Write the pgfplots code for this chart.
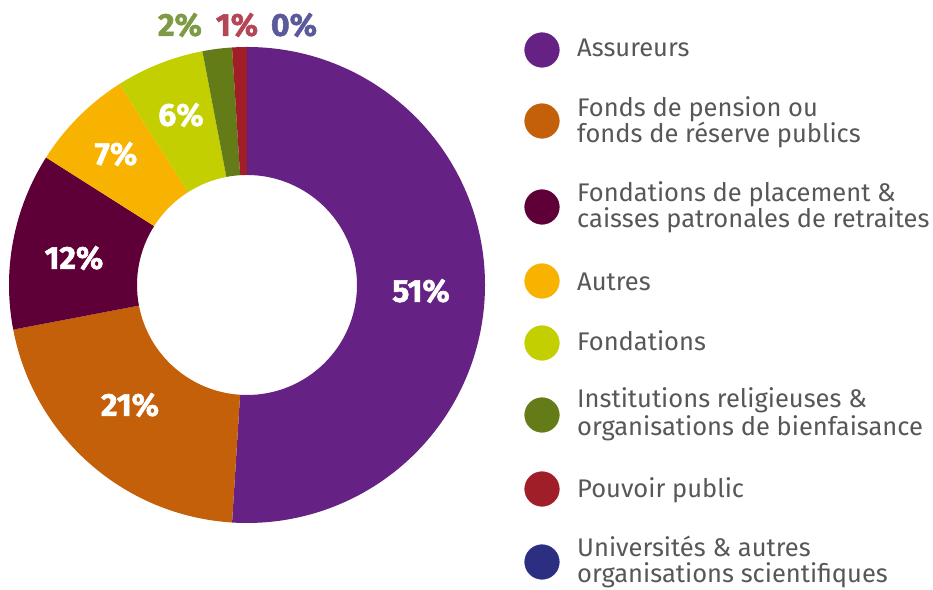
\documentclass[border=0pt]{standalone}
\usepackage{fontspec}
\setmainfont{Fira Sans}
\newfontfamily\heavy[FakeBold=1.6]{Fira Sans Bold}
\usepackage{pgfplots}
\usepackage{pgfplotstable}
\pgfplotsset{compat=1.18}
\definecolor{cA}{HTML}{652183}
\definecolor{cB}{HTML}{C5600A}
\definecolor{cC}{HTML}{5E0037}
\definecolor{cD}{HTML}{F8B200}
\definecolor{cE}{HTML}{C3CF00}
\definecolor{cF}{HTML}{637C18}
\definecolor{cG}{HTML}{A01E28}
\definecolor{cH}{HTML}{2C2E82}
\definecolor{tF}{HTML}{7E9A45}
\definecolor{tG}{HTML}{B44655}
\definecolor{tH}{HTML}{5A5A9B}
\definecolor{txt}{HTML}{575756}

% share (%) and colour of each slice, clockwise from the top
\pgfplotstableread{
value color
51 cA
21 cB
12 cC
7  cD
6  cE
2  cF
1  cG
0  cH
}\slices

\begin{document}
\begin{tikzpicture}
\begin{axis}[x=1bp, y=1bp, xmin=0, xmax=933, ymin=0, ymax=590,
  hide axis, clip=false, anchor=origin]
\path (axis cs:0,0) rectangle (axis cs:933,590);
\pgfplotstablegetrowsof{\slices}
\pgfmathtruncatemacro\nrows{\pgfplotsretval-1}
\gdef\angA{90}
\pgfplotsforeachungrouped \i in {0,...,\nrows}{%
  \pgfplotstablegetelem{\i}{value}\of\slices \let\val\pgfplotsretval
  \pgfplotstablegetelem{\i}{color}\of\slices \let\col\pgfplotsretval
  \pgfmathsetmacro\angB{\angA-3.6*\val}%
  \edef\cmd{\noexpand\fill[\col] ([shift={(\angA:238bp)}]axis cs:247,305)
    arc[start angle=\angA, end angle=\angB, radius=238bp]
    -- ([shift={(\angB:110bp)}]axis cs:247,305)
    arc[start angle=\angB, end angle=\angA, radius=110bp] -- cycle;}%
  \cmd
  \global\let\angA\angB
}
% slice labels
\tikzset{pl/.style={font=\heavy\fontsize{32}{32}\selectfont, text=white, inner sep=0pt}}
\node[pl] at (axis cs:421,299) {51\%};
\node[pl] at (axis cs:130,185) {21\%};
\node[pl] at (axis cs:74,332) {12\%};
\node[pl] at (axis cs:116,436) {7\%};
\node[pl] at (axis cs:181,475) {6\%};
\tikzset{tl/.style={font=\heavy\fontsize{32}{32}\selectfont, inner sep=0pt}}
\node[tl, text=tF] at (axis cs:180,565) {2\%};
\node[tl, text=tG] at (axis cs:237,565) {1\%};
\node[tl, text=tH] at (axis cs:294,565) {0\%};
% legend markers
\addplot[only marks, mark=*, mark size=17.4pt, color=cA] coordinates {(542,540)};
\addplot[only marks, mark=*, mark size=17.4pt, color=cB] coordinates {(542,469)};
\addplot[only marks, mark=*, mark size=17.4pt, color=cC] coordinates {(542,383)};
\addplot[only marks, mark=*, mark size=17.4pt, color=cD] coordinates {(542,309)};
\addplot[only marks, mark=*, mark size=17.4pt, color=cE] coordinates {(542,247)};
\addplot[only marks, mark=*, mark size=17.4pt, color=cF] coordinates {(542,175)};
\addplot[only marks, mark=*, mark size=17.4pt, color=cG] coordinates {(542,101)};
\addplot[only marks, mark=*, mark size=17.4pt, color=cH] coordinates {(542,28)};
% legend text
\tikzset{lg/.style={anchor=base west, inner sep=0pt, text=txt, font=\fontsize{25.6}{26}\selectfont}}
\node[lg] at (axis cs:577,533) {Assureurs};
\node[lg] at (axis cs:577,473) {Fonds de pension ou};
\node[lg] at (axis cs:577,447) {fonds de réserve publics};
\node[lg] at (axis cs:577,388) {Fondations de placement \&};
\node[lg] at (axis cs:577,362) {caisses patronales de retraites};
\node[lg] at (axis cs:577,299) {Autres};
\node[lg] at (axis cs:577,239) {Fondations};
\node[lg] at (axis cs:577,182) {Institutions religieuses \&};
\node[lg] at (axis cs:577,154) {organisations de bienfaisance};
\node[lg] at (axis cs:577,92) {Pouvoir public};
\node[lg] at (axis cs:577,33) {Universités \& autres};
\node[lg] at (axis cs:577,7) {organisations scientifiques};
\end{axis}
\end{tikzpicture}
\end{document}
